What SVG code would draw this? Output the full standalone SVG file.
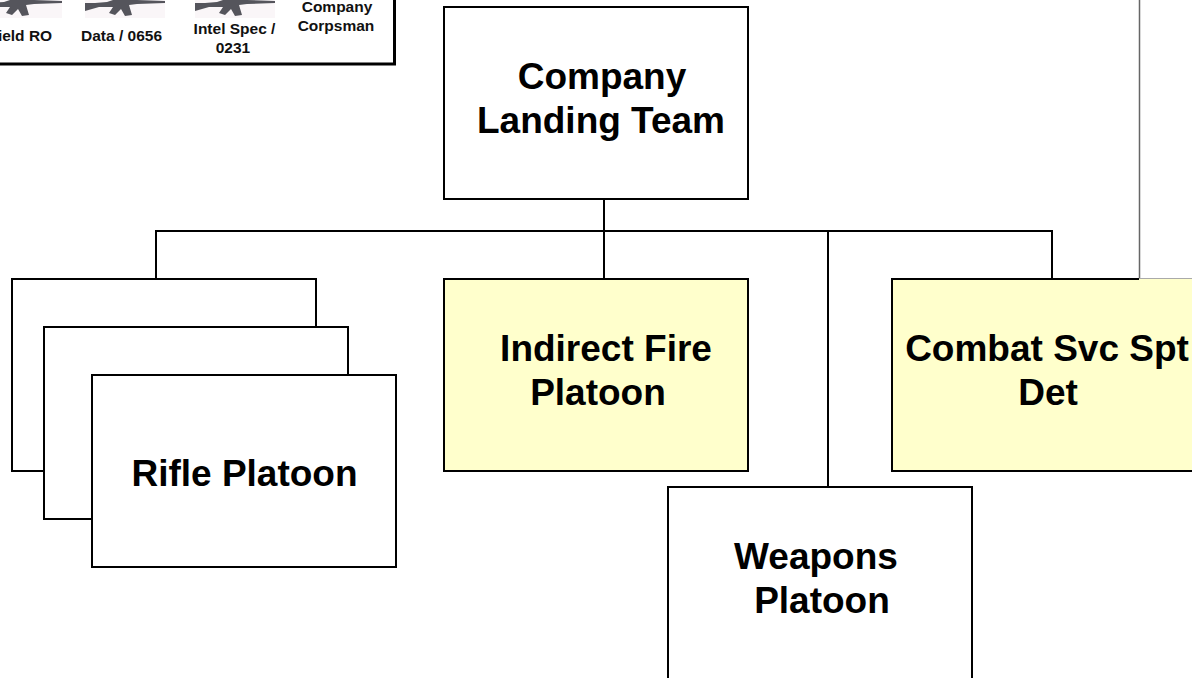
<svg xmlns="http://www.w3.org/2000/svg" width="1192" height="678" viewBox="0 0 1192 678">
<style>
.box{fill:#fff;stroke:#000;stroke-width:2}
.c{fill:none;stroke:#000;stroke-width:2}
.t{font-family:"Liberation Sans",Arial,sans-serif;font-weight:700;font-size:37px;fill:#000;text-anchor:middle}
.s{font-family:"Liberation Sans",Arial,sans-serif;font-weight:700;font-size:15.500px;fill:#111;text-anchor:middle}
.g{fill:#55555c}
.h{fill:#faf6f8}
</style>
<defs>
<g id="rifle">
<rect class="h" x="0" y="0" width="80" height="18"/>
<path class="g" d="M0 3 L10 3 L22 2 L28 0 L52 0 L80 1 L80 3 L52 4 L44 5 L47 15 L40 16 L36 9 L30 15 L24 13 L28 7 L14 7 L0 11 Z"/>
</g>
</defs>
<rect width="1192" height="678" fill="#fff"/>
<g id="legend">
<path d="M0 64 H394.500 V0" fill="none" stroke="#000" stroke-width="3"/>
<use href="#rifle" x="-18" y="0"/>
<use href="#rifle" x="85" y="0"/>
<use href="#rifle" x="195" y="0"/>
<text class="s" x="25" y="41">ield RO</text>
<text class="s" x="121.500" y="41">Data / 0656</text>
<text class="s" x="234.500" y="34">Intel Spec /</text>
<text class="s" x="233" y="53">0231</text>
<text class="s" x="337" y="12">Company</text>
<text class="s" x="336" y="31">Corpsman</text>
</g>
<g id="connectors">
<path class="c" d="M604 199 V279"/>
<path class="c" d="M156 279 V231 H1052 V279"/>
<path class="c" d="M828 231 V487"/>
<path d="M1139.500 0 V279" fill="none" stroke="#666" stroke-width="1.500"/>
</g>
<g id="company-landing-team">
<rect class="box" x="444" y="7" width="304" height="192"/>
<text class="t" x="602" y="89">Company</text>
<text class="t" x="601" y="133">Landing Team</text>
</g>
<g id="rifle-platoon">
<rect class="box" x="12" y="279" width="304" height="192"/>
<rect class="box" x="44" y="327" width="304" height="192"/>
<rect class="box" x="92" y="375" width="304" height="192"/>
<text class="t" x="244.500" y="486">Rifle Platoon</text>
</g>
<g id="indirect-fire-platoon">
<rect x="444" y="279" width="304" height="192" fill="#ffffcc" stroke="#000" stroke-width="2"/>
<text class="t" x="606" y="361">Indirect Fire</text>
<text class="t" x="598" y="405">Platoon</text>
</g>
<g id="combat-svc-spt-det">
<rect x="892" y="279" width="300" height="192" fill="#ffffcc"/>
<path class="c" d="M1139 279 H892 V471 H1192"/>
<path d="M1139 278.500 H1192" fill="none" stroke="#aaa" stroke-width="1"/>
<text class="t" x="1047" y="361">Combat Svc Spt</text>
<text class="t" x="1048" y="405">Det</text>
</g>
<g id="weapons-platoon">
<rect class="box" x="668" y="487" width="304" height="200"/>
<text class="t" x="816" y="569">Weapons</text>
<text class="t" x="822" y="613">Platoon</text>
</g>
</svg>
